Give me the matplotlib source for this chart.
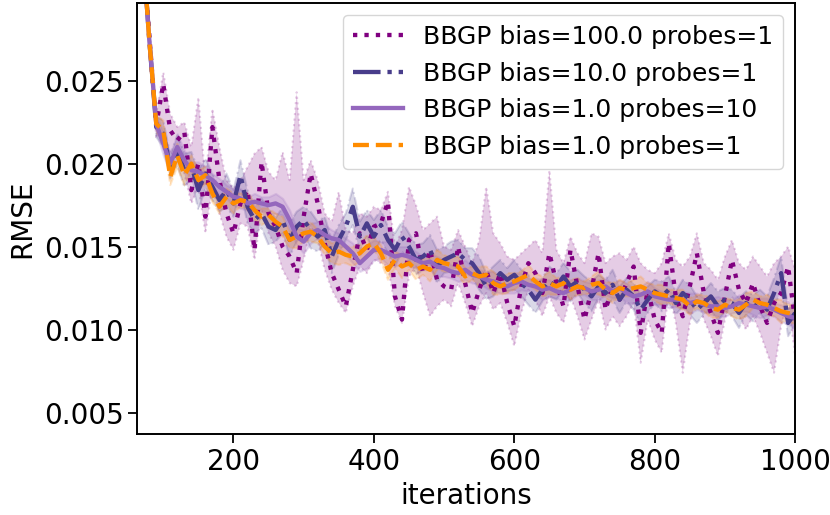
import numpy as np
import matplotlib
matplotlib.use("Agg")
import matplotlib.pyplot as plt

# iterations (every 10 steps)
iterations = np.arange(70, 1001, 10)

# RMSE values in units of 1e-3
# BBGP bias=100.0 probes=1 (dotted): mean and band limits
b100_mean = [33.5, 27.8, 22.3, 24.8, 22.0, 21.4, 21.9, 18.4, 20.0, 16.8,
             22.2, 19.0, 17.0, 15.8, 17.6, 18.4, 14.8, 20.1, 17.0, 16.2,
             15.0, 14.4, 13.4, 16.8, 19.4, 17.6, 15.2, 13.4, 12.4, 11.4,
             13.6, 15.8, 14.8, 16.2, 16.4, 17.7, 12.0, 10.6, 15.4, 15.8,
             13.4, 14.8, 13.0, 12.6, 12.4, 15.0, 12.8, 11.0, 12.4, 13.6,
             12.2, 13.4, 11.6, 10.2, 12.6, 14.0, 13.4, 12.2, 14.6, 12.8,
             11.4, 14.8, 12.6, 10.6, 12.4, 14.6, 11.2, 12.6, 11.8, 12.8,
             13.8, 9.8, 12.4, 10.6, 9.8, 15.2, 12.0, 10.8, 12.6, 14.6,
             12.2, 11.0, 9.8, 12.0, 14.2, 12.4, 11.6, 12.8, 11.4, 10.4,
             11.6, 12.2, 13.8, 10.5]
b100_hi = [34.0, 28.5, 23.0, 25.5, 23.0, 22.2, 22.5, 21.0, 24.0, 19.0,
           23.3, 21.0, 19.0, 18.5, 19.0, 19.8, 20.6, 21.0, 19.5, 19.0,
           20.7, 19.0, 24.3, 19.0, 20.2, 19.0, 17.0, 16.5, 18.3, 16.0,
           15.8, 17.0, 16.8, 17.4, 17.2, 18.3, 15.0, 16.0, 18.6, 17.5,
           16.0, 16.4, 16.8, 15.0, 14.8, 16.0, 15.0, 14.0, 15.4, 18.6,
           15.8, 15.2, 14.4, 14.2, 14.6, 15.0, 15.4, 14.6, 19.6, 14.8,
           14.0, 15.6, 14.6, 14.0, 15.8, 15.6, 14.0, 14.4, 14.6, 14.2,
           15.0, 14.0, 13.6, 13.4, 14.0, 15.8, 14.2, 13.8, 14.4, 15.8,
           14.0, 13.6, 13.0, 14.4, 15.4, 14.0, 13.6, 14.4, 13.8, 13.2,
           14.0, 14.4, 15.0, 13.6]
b100_lo = [33.0, 27.0, 21.6, 21.8, 20.6, 20.4, 19.4, 17.6, 18.6, 15.8,
           18.6, 17.0, 15.6, 14.8, 16.4, 16.2, 14.2, 17.2, 15.8, 15.0,
           13.6, 12.8, 12.6, 14.2, 16.2, 15.4, 13.6, 12.4, 11.6, 11.0,
           12.6, 13.8, 13.4, 14.2, 14.0, 13.8, 11.4, 10.4, 13.2, 13.8,
           12.2, 10.8, 11.4, 11.8, 11.4, 12.8, 11.6, 10.2, 11.4, 12.2,
           11.2, 11.6, 10.4, 9.0, 11.0, 12.4, 11.8, 10.8, 12.0, 11.0,
           10.4, 12.0, 10.8, 9.4, 10.6, 11.8, 10.0, 10.8, 10.2, 10.8,
           11.6, 8.0, 10.6, 9.4, 8.6, 12.4, 10.4, 7.4, 10.4, 12.0,
           10.6, 9.6, 8.4, 10.6, 12.0, 10.8, 10.0, 10.8, 9.8, 8.6,
           7.4, 10.2, 11.8, 8.4]

# BBGP bias=10.0 probes=1 (dash-dot)
b10_mean = [33.5, 27.5, 22.2, 21.8, 19.8, 20.8, 19.6, 19.9, 18.4, 19.4,
            18.6, 17.8, 18.4, 17.6, 19.3, 17.4, 16.6, 17.0, 16.2, 16.0,
            16.6, 15.4, 16.2, 16.6, 16.0, 15.6, 16.0, 14.4, 15.4, 16.2,
            17.4, 15.6, 16.4, 15.6, 16.3, 15.4, 14.8, 15.6, 15.0, 14.2,
            14.4, 14.8, 13.8, 14.2, 14.4, 14.6, 14.2, 14.0, 13.4, 12.6,
            12.9, 13.4, 13.0, 13.3, 12.8, 12.4, 11.8, 12.4, 12.9, 12.6,
            13.2, 12.6, 12.9, 12.4, 12.0, 12.6, 12.2, 12.7, 11.8, 12.4,
            12.0, 11.2, 11.8, 12.3, 12.0, 12.4, 11.6, 12.2, 11.8, 11.2,
            11.6, 12.0, 11.4, 11.8, 11.6, 11.0, 11.6, 11.3, 11.7, 11.2,
            12.2, 13.4, 10.4, 11.0]
b10_std = [0.3, 0.5, 0.6, 0.8, 0.7, 0.9, 1.0, 0.8, 1.2, 0.9,
           0.8, 0.7, 1.0, 0.8, 0.9, 1.0, 0.8, 0.9, 1.1, 0.7,
           0.8, 1.0, 0.9, 0.8, 1.1, 0.9, 0.8, 1.0, 0.9, 0.8,
           1.1, 0.9, 0.8, 1.0, 0.9, 0.8, 1.0, 0.9, 0.8, 0.9,
           0.8, 0.9, 1.0, 0.8, 0.9, 0.8, 0.7, 0.9, 1.0, 0.8,
           0.9, 0.8, 0.7, 0.9, 0.8, 0.9, 0.8, 0.7, 0.9, 0.8,
           0.8, 0.9, 0.7, 0.8, 0.9, 0.7, 0.8, 0.9, 0.8, 0.7,
           0.8, 0.9, 0.8, 0.7, 0.9, 0.8, 0.7, 0.8, 0.9, 0.8,
           0.7, 0.8, 0.9, 0.7, 0.8, 0.9, 0.7, 0.8, 0.7, 0.8,
           0.9, 1.0, 0.8, 0.7]

# BBGP bias=1.0 probes=10 (solid)
p10_mean = [33.5, 27.5, 22.4, 21.2, 20.0, 21.0, 20.2, 19.6, 19.5, 19.3,
            19.0, 18.6, 18.3, 18.0, 17.9, 17.6, 17.7, 17.6, 17.5, 17.6,
            17.4, 16.6, 15.6, 15.3, 15.8, 16.0, 15.7, 15.5, 15.4, 15.0,
            14.6, 14.0, 14.4, 14.8, 14.8, 14.6, 14.4, 14.5, 14.4, 14.2,
            14.0, 14.1, 13.8, 13.7, 13.5, 13.4, 13.6, 13.3, 13.2, 13.0,
            12.9, 12.7, 12.6, 12.8, 12.9, 12.7, 12.6, 12.4, 12.5, 12.3,
            12.2, 12.4, 12.6, 12.5, 12.3, 12.4, 12.6, 12.3, 12.5, 12.2,
            12.0, 12.1, 12.3, 12.0, 11.9, 11.8, 11.8, 11.8, 11.6, 11.7,
            11.5, 11.4, 11.4, 11.3, 11.4, 11.6, 11.5, 11.4, 11.3, 11.4,
            11.2, 11.0, 10.8, 10.7]
p10_std = [0.3, 0.4, 0.5, 0.7, 0.6, 0.8, 0.6, 0.5, 0.6, 0.5,
           0.4, 0.5, 0.4, 0.5, 0.6, 0.4, 0.5, 0.4, 0.5, 0.6,
           0.5, 0.6, 0.5, 0.7, 0.6, 0.5, 0.6, 0.5, 0.4, 0.5,
           0.6, 0.5, 0.7, 0.6, 0.5, 0.7, 0.6, 0.5, 0.6, 0.5,
           0.4, 0.5, 0.6, 0.5, 0.4, 0.5, 0.6, 0.5, 0.4, 0.5,
           0.6, 0.5, 0.4, 0.6, 0.5, 0.4, 0.5, 0.6, 0.5, 0.4,
           0.5, 0.6, 0.5, 0.4, 0.5, 0.6, 0.5, 0.4, 0.5, 0.6,
           0.4, 0.5, 0.6, 0.5, 0.4, 0.5, 0.4, 0.5, 0.6, 0.5,
           0.4, 0.5, 0.6, 0.5, 0.4, 0.5, 0.4, 0.5, 0.6, 0.5,
           0.4, 0.5, 0.5, 0.6]

# BBGP bias=1.0 probes=1 (dashed)
b1_mean = [33.5, 27.5, 22.4, 22.0, 19.2, 20.5, 19.3, 20.0, 19.0, 19.3,
           18.2, 17.4, 18.0, 17.6, 17.8, 17.7, 17.2, 16.8, 16.9, 16.5,
           16.2, 15.4, 15.6, 15.8, 15.9, 15.6, 15.0, 14.6, 14.7, 14.5,
           14.4, 14.6, 15.0, 15.2, 14.6, 13.6, 14.2, 13.8, 14.0, 13.6,
           13.8, 13.6, 14.2, 14.0, 13.9, 13.8, 13.2, 13.4, 13.2, 13.3,
           12.8, 12.6, 12.8, 12.9, 13.1, 13.3, 12.9, 12.6, 12.8, 12.6,
           12.8, 12.4, 12.6, 12.5, 12.7, 12.8, 12.4, 12.2, 12.5, 12.4,
           12.5, 12.6, 12.4, 12.2, 12.1, 12.0, 11.9, 11.8, 11.4, 11.7,
           11.6, 11.3, 11.2, 11.5, 11.3, 11.2, 11.5, 11.8, 11.6, 11.5,
           11.3, 11.1, 11.0, 10.9]
b1_std = [0.3, 0.4, 0.5, 0.6, 0.5, 0.7, 0.6, 0.5, 0.6, 0.5,
          0.5, 0.4, 0.5, 0.6, 0.4, 0.5, 0.6, 0.5, 0.4, 0.5,
          0.6, 0.5, 0.7, 0.5, 0.6, 0.4, 0.5, 0.6, 0.8, 0.5,
          0.6, 0.5, 0.7, 0.4, 0.5, 0.6, 0.5, 0.7, 0.4, 0.6,
          0.5, 0.7, 0.6, 0.5, 0.4, 0.6, 0.5, 0.4, 0.6, 0.5,
          0.7, 0.5, 0.6, 0.5, 0.4, 0.6, 0.5, 0.6, 0.7, 0.5,
          0.4, 0.6, 0.5, 0.4, 0.5, 0.7, 0.5, 0.6, 0.5, 0.4,
          0.5, 0.6, 0.4, 0.5, 0.6, 0.4, 0.5, 0.6, 0.5, 0.4,
          0.5, 0.6, 0.5, 0.4, 0.5, 0.6, 0.7, 0.5, 0.4, 0.6,
          0.5, 0.7, 0.5, 0.6]

labels = ["BBGP bias=100.0 probes=1", "BBGP bias=10.0 probes=1",
          "BBGP bias=1.0 probes=10", "BBGP bias=1.0 probes=1"]

scale = 1e-3
plt.rcParams["font.size"] = 20

fig, ax = plt.subplots(figsize=(8.3, 5.15), dpi=100)
fig.subplots_adjust(left=0.1654, right=0.958, bottom=0.157, top=0.995)

# (mean, lower, upper, colour, linestyle)
series = [
    (b100_mean, b100_lo, b100_hi, "purple", ":"),
    (b10_mean, np.subtract(b10_mean, b10_std), np.add(b10_mean, b10_std), "darkslateblue", "-."),
    (p10_mean, np.subtract(p10_mean, p10_std), np.add(p10_mean, p10_std), "tab:purple", "-"),
    (b1_mean, np.subtract(b1_mean, b1_std), np.add(b1_mean, b1_std), "darkorange", "--"),
]

for (m, lo, hi, c, ls), lab in zip(series, labels):
    ax.fill_between(iterations, np.asarray(lo) * scale, np.asarray(hi) * scale,
                    color=c, alpha=0.2, linestyle=ls, linewidth=1.5)
    ax.plot(iterations, np.asarray(m) * scale, color=c, linestyle=ls,
            linewidth=3.1, label=lab)

ax.set_xlim(63, 1000)
ax.set_ylim(0.0037, 0.0297)
ax.set_yticks([0.005, 0.010, 0.015, 0.020, 0.025])
ax.set_xticks([200, 400, 600, 800, 1000])
ax.tick_params(length=6.5, width=1.3)
for sp in ax.spines.values():
    sp.set_linewidth(1.4)

ax.set_xlabel("iterations", labelpad=4)
ax.set_ylabel("RMSE", labelpad=5)
ax.legend(loc="upper right", fontsize=18)

fig.savefig("out.png", dpi=100)
